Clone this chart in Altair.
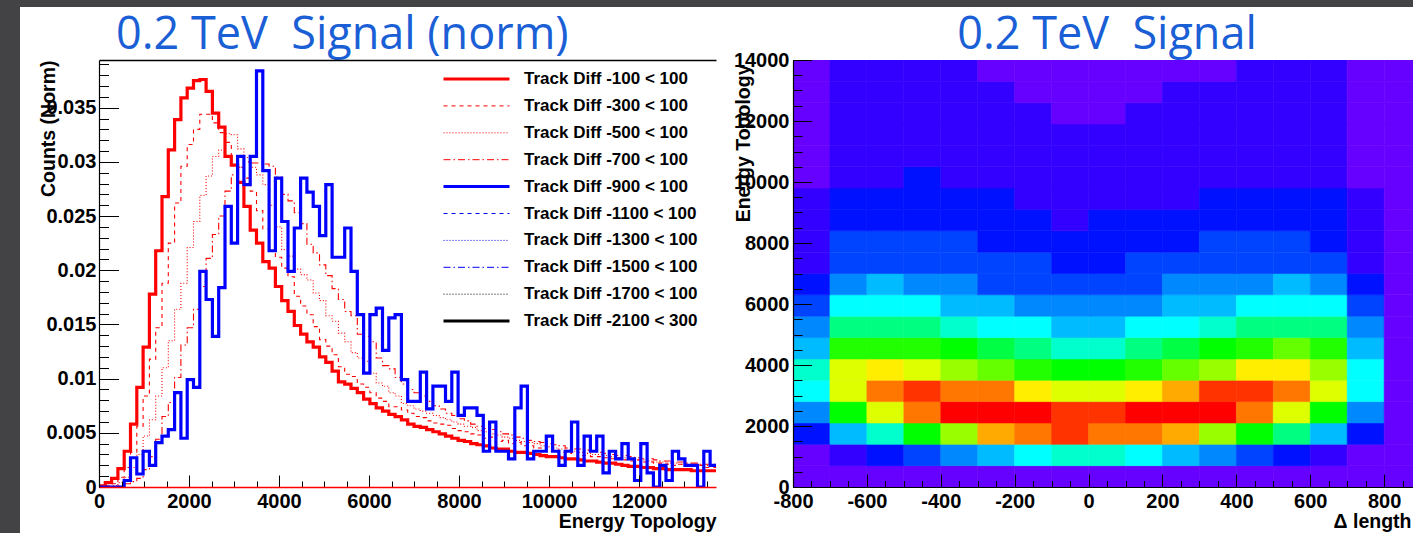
import altair as alt
import pandas as pd

# ---------------------------------------------------------------- left panel data
bin_width = 140  # histogram bin width in Energy Topology units
series_names = [
    "Track Diff -100 < 100", "Track Diff -300 < 100", "Track Diff -500 < 100",
    "Track Diff -700 < 100", "Track Diff -900 < 100", "Track Diff -1100 < 100",
    "Track Diff -1300 < 100", "Track Diff -1500 < 100", "Track Diff -1700 < 100",
    "Track Diff -2100 < 300",
]
counts_100 = [
    0.0001, 0.0004, 0.0008, 0.0017, 0.0033, 0.0058, 0.0092, 0.0129, 0.0178, 0.0218,
    0.0268, 0.0311, 0.0339, 0.0359, 0.0368, 0.0375, 0.0376, 0.0365, 0.0345, 0.0332,
    0.0305, 0.0297, 0.0281, 0.0259, 0.0237, 0.0225, 0.0208, 0.0202, 0.0185, 0.0172,
    0.0162, 0.0149, 0.0141, 0.0134, 0.0129, 0.0120, 0.0115, 0.0107, 0.0097, 0.0095,
    0.0091, 0.0087, 0.0081, 0.0077, 0.0073, 0.0070, 0.0067, 0.0065, 0.0062, 0.0058,
    0.0056, 0.0055, 0.0053, 0.0051, 0.0049, 0.0047, 0.0045, 0.0043, 0.0042, 0.0040,
    0.0039, 0.0038, 0.0036, 0.0035, 0.0035, 0.0033, 0.0032, 0.0032, 0.0031, 0.0030,
    0.0029, 0.0028, 0.0028, 0.0027, 0.0026, 0.0026, 0.0025, 0.0024, 0.0024, 0.0023,
    0.0022, 0.0022, 0.0021, 0.0020, 0.0019, 0.0019, 0.0018, 0.0018, 0.0017, 0.0017,
    0.0016, 0.0016, 0.0016, 0.0016, 0.0015, 0.0015, 0.0015, 0.0015, 0.0014,
]
counts_300 = [
    0.0000, 0.0001, 0.0003, 0.0009, 0.0018, 0.0032, 0.0056, 0.0084, 0.0118, 0.0147,
    0.0188, 0.0225, 0.0262, 0.0296, 0.0316, 0.0330, 0.0344, 0.0344, 0.0336, 0.0327,
    0.0318, 0.0305, 0.0295, 0.0285, 0.0273, 0.0255, 0.0238, 0.0218, 0.0212, 0.0202,
    0.0194, 0.0176, 0.0167, 0.0159, 0.0148, 0.0136, 0.0130, 0.0122, 0.0111, 0.0104,
    0.0102, 0.0095, 0.0092, 0.0087, 0.0082, 0.0079, 0.0074, 0.0074, 0.0071, 0.0068,
    0.0065, 0.0064, 0.0061, 0.0059, 0.0058, 0.0057, 0.0054, 0.0052, 0.0051, 0.0049,
    0.0048, 0.0045, 0.0046, 0.0042, 0.0043, 0.0040, 0.0041, 0.0038, 0.0038, 0.0036,
    0.0036, 0.0033, 0.0034, 0.0032, 0.0031, 0.0032, 0.0029, 0.0029, 0.0028, 0.0028,
    0.0027, 0.0026, 0.0027, 0.0025, 0.0024, 0.0025, 0.0023, 0.0023, 0.0022, 0.0022,
    0.0021, 0.0020, 0.0021, 0.0019, 0.0019, 0.0020, 0.0018, 0.0018, 0.0018,
]
counts_500 = [
    0.0000, 0.0000, 0.0001, 0.0004, 0.0009, 0.0018, 0.0030, 0.0047, 0.0062, 0.0084,
    0.0110, 0.0135, 0.0164, 0.0188, 0.0221, 0.0245, 0.0269, 0.0287, 0.0305, 0.0311,
    0.0326, 0.0325, 0.0312, 0.0304, 0.0295, 0.0288, 0.0279, 0.0260, 0.0240, 0.0219,
    0.0213, 0.0201, 0.0196, 0.0191, 0.0179, 0.0172, 0.0158, 0.0153, 0.0142, 0.0134,
    0.0124, 0.0119, 0.0116, 0.0105, 0.0096, 0.0093, 0.0087, 0.0084, 0.0077, 0.0075,
    0.0072, 0.0070, 0.0068, 0.0066, 0.0064, 0.0062, 0.0060, 0.0058, 0.0056, 0.0055,
    0.0052, 0.0051, 0.0049, 0.0048, 0.0046, 0.0045, 0.0043, 0.0042, 0.0041, 0.0040,
    0.0038, 0.0037, 0.0036, 0.0035, 0.0034, 0.0033, 0.0032, 0.0031, 0.0030, 0.0030,
    0.0029, 0.0028, 0.0027, 0.0027, 0.0026, 0.0025, 0.0025, 0.0024, 0.0023, 0.0023,
    0.0022, 0.0022, 0.0021, 0.0021, 0.0020, 0.0020, 0.0020, 0.0019, 0.0019,
]
counts_700 = [
    0.0000, 0.0000, 0.0000, 0.0001, 0.0003, 0.0005, 0.0008, 0.0016, 0.0028, 0.0044,
    0.0065, 0.0078, 0.0101, 0.0131, 0.0147, 0.0164, 0.0185, 0.0211, 0.0233, 0.0250,
    0.0273, 0.0288, 0.0295, 0.0300, 0.0299, 0.0299, 0.0298, 0.0296, 0.0286, 0.0270,
    0.0264, 0.0253, 0.0243, 0.0224, 0.0216, 0.0205, 0.0195, 0.0183, 0.0173, 0.0162,
    0.0158, 0.0141, 0.0139, 0.0134, 0.0119, 0.0112, 0.0109, 0.0101, 0.0095, 0.0090,
    0.0087, 0.0084, 0.0079, 0.0075, 0.0072, 0.0068, 0.0066, 0.0063, 0.0061, 0.0058,
    0.0056, 0.0054, 0.0053, 0.0051, 0.0049, 0.0048, 0.0046, 0.0045, 0.0043, 0.0042,
    0.0041, 0.0040, 0.0039, 0.0038, 0.0036, 0.0035, 0.0035, 0.0034, 0.0033, 0.0032,
    0.0031, 0.0030, 0.0029, 0.0029, 0.0028, 0.0027, 0.0026, 0.0026, 0.0025, 0.0024,
    0.0024, 0.0023, 0.0023, 0.0022, 0.0022, 0.0021, 0.0021, 0.0021, 0.0020,
]
counts_900 = [
    0.0000, 0.0000, 0.0000, 0.0000, 0.0006, 0.0027, 0.0012, 0.0033, 0.0020, 0.0041,
    0.0047, 0.0053, 0.0087, 0.0045, 0.0099, 0.0092, 0.0199, 0.0173, 0.0139, 0.0184,
    0.0259, 0.0225, 0.0305, 0.0279, 0.0305, 0.0384, 0.0292, 0.0218, 0.0285, 0.0245,
    0.0199, 0.0239, 0.0285, 0.0272, 0.0259, 0.0232, 0.0279, 0.0212, 0.0212, 0.0239,
    0.0199, 0.0159, 0.0105, 0.0159, 0.0165, 0.0126, 0.0156, 0.0159, 0.0099, 0.0079,
    0.0079, 0.0106, 0.0072, 0.0093, 0.0093, 0.0079, 0.0106, 0.0066, 0.0073, 0.0073,
    0.0066, 0.0033, 0.0060, 0.0033, 0.0033, 0.0026, 0.0073, 0.0093, 0.0026, 0.0033,
    0.0033, 0.0047, 0.0033, 0.0020, 0.0033, 0.0060, 0.0020, 0.0047, 0.0033, 0.0047,
    0.0013, 0.0033, 0.0026, 0.0040, 0.0026, 0.0006, 0.0040, 0.0013, 0.0000, 0.0020,
    0.0006, 0.0033, 0.0026, 0.0020, 0.0020, 0.0000, 0.0033, 0.0020, 0.0020,
]

# ---------------------------------------------------------------- right panel data
dlength_edges = [-800, -700, -600, -500, -400, -300, -200, -100, 0, 100,
                 200, 300, 400, 500, 600, 700, 800, 900]
energy_edges = [0, 700, 1400, 2100, 2800, 3500, 4200, 4900, 5600, 6300, 7000,
                7700, 8400, 9100, 9800, 10500, 11200, 11900, 12600, 13300, 14000]
# colour level of every cell (palette index), one list per energy row, bottom row first
heat_levels = [
    [0, 0, 0, 0, 0, 0, 0, 0, 0, 0, 0, 0, 0, 0, 0, 0, 0],
    [0, 1, 2, 3, 4, 5, 6, 7, 7, 6, 5, 4, 3, 2, 1, 0, 0],
    [2, 5, 7, 10, 13, 16, 17, 18, 17, 17, 16, 13, 10, 8, 5, 2, 0],
    [4, 10, 14, 17, 19, 19, 19, 18, 18, 19, 19, 19, 17, 14, 10, 4, 0],
    [6, 14, 17, 18, 17, 17, 15, 14, 14, 15, 16, 18, 18, 17, 14, 6, 0],
    [7, 14, 15, 14, 13, 12, 11, 10, 10, 11, 12, 13, 15, 15, 13, 6, 0],
    [5, 11, 11, 11, 10, 9, 8, 7, 7, 8, 9, 10, 11, 12, 11, 5, 0],
    [4, 8, 8, 8, 7, 6, 6, 5, 5, 6, 6, 7, 8, 8, 8, 4, 0],
    [3, 6, 6, 6, 5, 5, 4, 4, 4, 4, 5, 5, 6, 6, 6, 3, 0],
    [2, 4, 5, 4, 4, 3, 3, 3, 3, 3, 4, 4, 4, 5, 4, 2, 0],
    [1, 3, 3, 3, 3, 3, 3, 2, 2, 3, 3, 3, 3, 3, 3, 1, 0],
    [1, 3, 3, 3, 3, 2, 2, 2, 2, 2, 2, 3, 3, 3, 2, 1, 0],
    [1, 2, 2, 2, 2, 2, 2, 1, 2, 2, 2, 2, 2, 2, 2, 1, 0],
    [1, 2, 2, 2, 2, 2, 1, 1, 1, 1, 1, 2, 2, 2, 2, 1, 0],
    [0, 1, 1, 2, 1, 1, 1, 1, 1, 1, 1, 1, 1, 1, 1, 0, 0],
    [0, 1, 1, 1, 1, 1, 1, 1, 1, 1, 1, 1, 1, 1, 1, 0, 0],
    [0, 1, 1, 1, 1, 1, 1, 1, 1, 1, 1, 1, 1, 1, 1, 0, 0],
    [0, 1, 1, 1, 1, 1, 1, 0, 0, 1, 1, 1, 1, 1, 1, 0, 0],
    [0, 1, 1, 1, 1, 1, 0, 0, 0, 0, 1, 1, 1, 1, 1, 0, 0],
    [0, 1, 1, 1, 1, 0, 0, 0, 0, 0, 0, 0, 1, 1, 1, 0, 0],
]

# ---------------------------------------------------------------- styles
FONT = "Liberation Sans"
TITLE_FONT = "Open Sans"
TITLE_BLUE = "#1a5fd6"
BG_DARK = "#434345"
series_colors = ["#ff0000"] * 4 + ["#0000ff"] * 4 + ["#000000"] * 2
series_dashes = [[1, 0], [4, 4], [1, 2], [7, 3, 1.5, 3],
                 [1, 0], [4, 4], [1, 2], [7, 3, 1.5, 3],
                 [1, 2], [1, 0]]
thick_names = [series_names[0], series_names[4], series_names[9]]
palette = ["#6600ff", "#3300ff", "#0011ff", "#0044ff", "#0088ff", "#00bbff",
           "#00ffff", "#00ffcc", "#00ff80", "#00ff44", "#00ff00", "#22ff00",
           "#66ff00", "#99ff00", "#ddff00", "#ffee00", "#ffaa00", "#ff7700",
           "#ff3300", "#ff0000"]

W1, W2, H = 617, 620, 427

# ---------------------------------------------------------------- tables
hist_rows = []
for name, vals in zip(series_names[:5],
                      [counts_100, counts_300, counts_500, counts_700, counts_900]):
    for k, v in enumerate(vals):
        hist_rows.append({"series": name, "energy": k * bin_width, "counts": v})
hist_df = pd.DataFrame(hist_rows)

cells = []
for r, row in enumerate(heat_levels):
    for c, lev in enumerate(row):
        cells.append({"dl0": dlength_edges[c], "dl1": dlength_edges[c + 1],
                      "e0": energy_edges[r], "e1": energy_edges[r + 1], "level": lev})
heat_df = pd.DataFrame(cells)
panel_df = pd.DataFrame({"panel": [0]})


def label_axis(orient, **kw):
    base = dict(orient=orient, ticks=False, tickSize=0, grid=False, domain=True,
                domainColor="black", domainWidth=1.2, labelFlush=False, labelOverlap=False,
                labelFont=FONT, labelFontSize=20, labelFontWeight="bold", labelColor="black",
                titleFont=FONT, titleFontSize=19.5, titleFontWeight="bold",
                titleColor="black", zindex=2)
    base.update(kw)
    return alt.Axis(**base)


def tick_axis(orient, offset, values, size):
    return alt.Axis(orient=orient, offset=offset, values=values, ticks=True,
                    tickSize=size, tickColor="black", tickWidth=1, labels=False,
                    domain=False, grid=False, title=None, zindex=1)


# ---------------------------------------------------------------- left chart
e_scale = alt.Scale(domain=[0, 13711], nice=False, zero=False)
c_scale = alt.Scale(domain=[0, 0.0394], nice=False, zero=False)

bg_left = alt.Chart(panel_df).mark_rect(color="white").encode(
    x=alt.value(-79), x2=alt.value(W1 + 2), y=alt.value(-53), y2=alt.value(H + 46))

thick_expr = ("indexof([" + ",".join("'" + n + "'" for n in thick_names)
              + "], datum.value) >= 0 ? 3 : 1")
legend = alt.Legend(orient="none", legendX=344, legendY=10.5, title=None,
                    symbolType="M-3,0H3", symbolSize=484, rowPadding=8.9, padding=0,
                    symbolOffset=25, labelOffset=39, labelLimit=320,
                    labelFont=FONT, labelFontSize=17, labelFontWeight="bold",
                    labelColor="black", symbolStrokeWidth=alt.ExprRef(expr=thick_expr))

hist_lines = alt.Chart(hist_df).mark_line(interpolate="step-after", clip=True).encode(
    x=alt.X("energy:Q", scale=e_scale, axis=label_axis(
        "bottom", values=[0, 2000, 4000, 6000, 8000, 10000, 12000], format="d",
        labelPadding=4, domainColor="#ff0000", domainWidth=1.6,
        title="Energy Topology", titleX=W1, titleY=40, titleAlign="right",
        titleBaseline="alphabetic")),
    y=alt.Y("counts:Q", scale=c_scale, axis=label_axis(
        "left", values=[0, 0.005, 0.01, 0.015, 0.02, 0.025, 0.03, 0.035], format="~g",
        labelPadding=3, title="Counts (Norm)", titleAngle=270, titleX=-51, titleY=0,
        titleAlign="right", titleBaseline="middle")),
    color=alt.Color("series:N", scale=alt.Scale(domain=series_names, range=series_colors),
                    legend=legend),
    strokeDash=alt.StrokeDash("series:N",
                              scale=alt.Scale(domain=series_names, range=series_dashes),
                              legend=legend),
    strokeWidth=alt.condition(alt.FieldOneOfPredicate(field="series", oneOf=thick_names),
                              alt.value(3.2), alt.value(1.1)),
)

ticks_left_major = alt.Chart(hist_df).mark_point(opacity=0, clip=True).encode(
    x=alt.X("energy:Q", scale=e_scale,
            axis=tick_axis("top", -H, [0, 2000, 4000, 6000, 8000, 10000, 12000], 12)),
    y=alt.Y("counts:Q", scale=c_scale,
            axis=tick_axis("right", -W1, [0, 0.005, 0.01, 0.015, 0.02, 0.025, 0.03, 0.035], 19.5)),
)
ticks_left_minor = alt.Chart(hist_df).mark_point(opacity=0, clip=True).encode(
    x=alt.X("energy:Q", scale=e_scale,
            axis=tick_axis("top", -H, [i * 500 for i in range(28)], 6)),
    y=alt.Y("counts:Q", scale=c_scale,
            axis=tick_axis("right", -W1, [round(i * 0.001, 3) for i in range(40)], 9.5)),
)
frame_left = alt.Chart(hist_df).mark_point(opacity=0, clip=True).encode(
    x=alt.X("energy:Q", scale=e_scale,
            axis=alt.Axis(orient="top", offset=0, ticks=False, labels=False, domain=True,
                          domainColor="black", domainWidth=1.5, grid=False, title=None,
                          zindex=1)),
    y=alt.Y("counts:Q", scale=c_scale, axis=None),
)

left = alt.layer(bg_left, hist_lines, ticks_left_major, ticks_left_minor, frame_left).resolve_axis(
    x="independent", y="independent"
).properties(
    width=W1, height=H,
    title=alt.Title("0.2 TeV\u00a0 Signal (norm)", anchor="start", frame="group", dx=17,
                    offset=-87, baseline="alphabetic", font=TITLE_FONT, fontSize=45,
                    fontWeight="normal", color=TITLE_BLUE),
)

# ---------------------------------------------------------------- right chart
dl_scale = alt.Scale(domain=[-800, 878], nice=False, zero=False)
en_scale = alt.Scale(domain=[0, 14000], nice=False, zero=False)
pal_scale = alt.Scale(domain=list(range(len(palette))), range=palette)

bg_right = alt.Chart(panel_df).mark_rect(color="white").encode(
    x=alt.value(-75), x2=alt.value(W2), y=alt.value(-53), y2=alt.value(H + 46))

heat = alt.Chart(heat_df).mark_rect(clip=True, strokeWidth=0.6).encode(
    x=alt.X("dl0:Q", scale=dl_scale, axis=label_axis(
        "bottom", values=[-800, -600, -400, -200, 0, 200, 400, 600, 800],
        labelExpr="'' + datum.value", labelPadding=4, title="\u0394 length",
        titleX=W2 - 2, titleY=40, titleAlign="right", titleBaseline="alphabetic")),
    x2="dl1:Q",
    y=alt.Y("e0:Q", scale=en_scale, axis=label_axis(
        "left", values=[0, 2000, 4000, 6000, 8000, 10000, 12000, 14000], format="d",
        labelPadding=4, title="Energy Topology", titleAngle=270, titleX=-50, titleY=4,
        titleAlign="right", titleBaseline="middle")),
    y2="e1:Q",
    color=alt.Color("level:O", scale=pal_scale, legend=None),
    stroke=alt.Stroke("level:O", scale=pal_scale, legend=None),
)
ticks_right_major = alt.Chart(heat_df).mark_point(opacity=0, clip=True).encode(
    x=alt.X("dl0:Q", scale=dl_scale,
            axis=tick_axis("top", -H, [-800, -600, -400, -200, 0, 200, 400, 600, 800], 13)),
    y=alt.Y("e0:Q", scale=en_scale,
            axis=tick_axis("right", -W2, [0, 2000, 4000, 6000, 8000, 10000, 12000, 14000], 18.5)),
)
ticks_right_minor = alt.Chart(heat_df).mark_point(opacity=0, clip=True).encode(
    x=alt.X("dl0:Q", scale=dl_scale,
            axis=tick_axis("top", -H, [-800 + i * 50 for i in range(34)], 6.5)),
    y=alt.Y("e0:Q", scale=en_scale,
            axis=tick_axis("right", -W2, [i * 500 for i in range(29)], 9)),
)

right = alt.layer(bg_right, heat, ticks_right_major, ticks_right_minor).resolve_axis(
    x="independent", y="independent"
).properties(
    width=W2, height=H,
    title=alt.Title("0.2 TeV\u00a0 Signal", anchor="middle", frame="group", dx=4,
                    offset=-87, baseline="alphabetic", font=TITLE_FONT, fontSize=45,
                    fontWeight="normal", color=TITLE_BLUE),
)

chart = alt.hconcat(left, right, spacing=0).resolve_scale(
    color="independent", stroke="independent", strokeDash="independent"
).resolve_legend(
    color="independent", stroke="independent", strokeDash="independent"
).properties(
    padding={"left": 20, "top": 7, "right": 0, "bottom": 0},
    background=BG_DARK,
).configure_view(stroke=None)

chart.save("out.html", embed_options={"renderer": "svg", "actions": False})
